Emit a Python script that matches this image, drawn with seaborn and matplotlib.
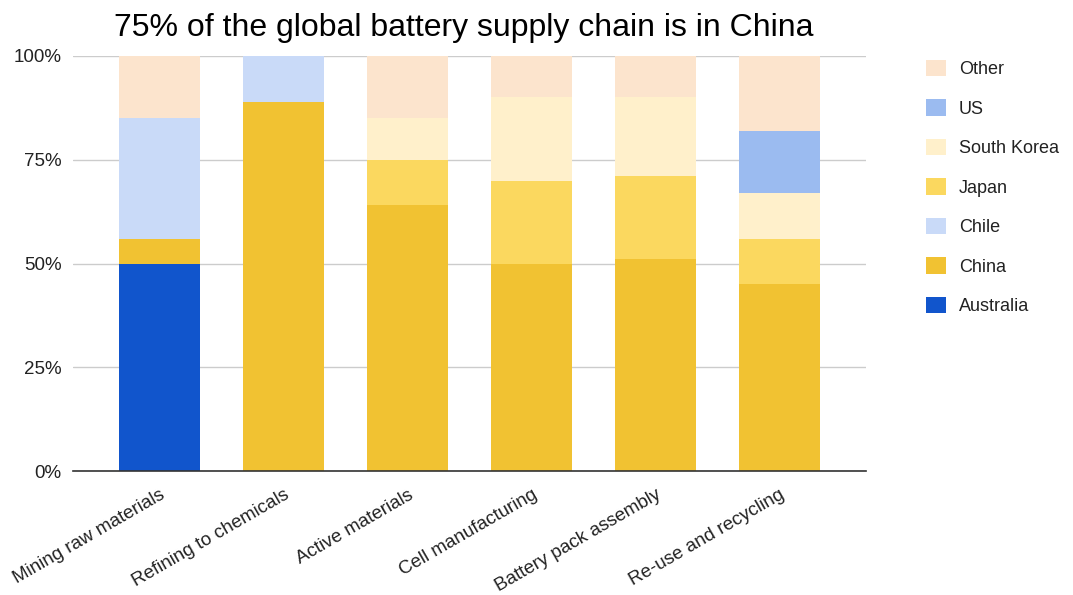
import matplotlib
matplotlib.use("Agg")
import matplotlib.pyplot as plt
from matplotlib.patches import Patch
import numpy as np
import pandas as pd
import seaborn as sns

stages = ["Mining raw materials", "Refining to chemicals", "Active materials",
          "Cell manufacturing", "Battery pack assembly", "Re-use and recycling"]

# Share of each supply-chain stage by country (%), bottom to top
australia   = [50, 0, 0, 0, 0, 0]
china       = [6, 89, 64, 50, 51, 45]
chile       = [29, 11, 0, 0, 0, 0]
japan       = [0, 0, 11, 20, 20, 11]
south_korea = [0, 0, 10, 20, 19, 11]
us          = [0, 0, 0, 0, 0, 15]
other       = [15, 0, 15, 10, 10, 18]

series = ["Australia", "China", "Chile", "Japan", "South Korea", "US", "Other"]
values = [australia, china, chile, japan, south_korea, us, other]
colors = ["#1155cc", "#f1c232", "#c9daf8", "#fbd85f", "#fff0cb", "#9bbbf0", "#fce4cd"]

sns.set_theme(style="white")
plt.rcParams["font.family"] = ["Liberation Sans", "DejaVu Sans"]

fig = plt.figure(figsize=(10.73, 5.95), dpi=100)
ax = fig.add_axes([0.068, 0.208, 0.739, 0.698])

# Stack by drawing cumulative totals from the top series down
cum = np.cumsum(np.array(values), axis=0)
for i in range(len(series) - 1, -1, -1):
    df = pd.DataFrame({"stage": stages, "share": cum[i]})
    sns.barplot(data=df, x="stage", y="share", color=colors[i], width=0.655,
                saturation=1, ax=ax, zorder=2, linewidth=0)

ax.set_xlim(-0.70, 5.70)
ax.set_ylim(0, 100)
ax.set_yticks([0, 25, 50, 75, 100])
ax.set_yticklabels(["0%", "25%", "50%", "75%", "100%"], fontsize=13.5, color="#222222")
ax.yaxis.grid(True, color="#cccccc", linewidth=1, zorder=0)
ax.set_axisbelow(True)
ax.tick_params(axis="y", length=0, pad=8)
ax.set_xticks(range(len(stages)))
ax.set_xticklabels(stages, rotation=30, ha="right", rotation_mode="anchor",
                   fontsize=13.5, color="#222222")
ax.tick_params(axis="x", length=0, pad=11)
ax.set_xlabel("")
ax.set_ylabel("")
for side in ["top", "right", "left"]:
    ax.spines[side].set_visible(False)
ax.spines["bottom"].set_color("#333333")
ax.spines["bottom"].set_linewidth(1.2)

fig.text(0.432, 0.953, "75% of the global battery supply chain is in China",
         ha="center", va="center", fontsize=23, color="#000000")

handles = [Patch(facecolor=colors[i], edgecolor="none", label=series[i])
           for i in range(len(series) - 1, -1, -1)]
fig.legend(handles=handles, loc="upper left", bbox_to_anchor=(0.848, 0.927),
           frameon=False, fontsize=13, handlelength=1.1, handleheight=1.05,
           handletextpad=0.7, labelspacing=1.16, labelcolor="#222222")

fig.savefig("out.png", dpi=100, facecolor="white")
